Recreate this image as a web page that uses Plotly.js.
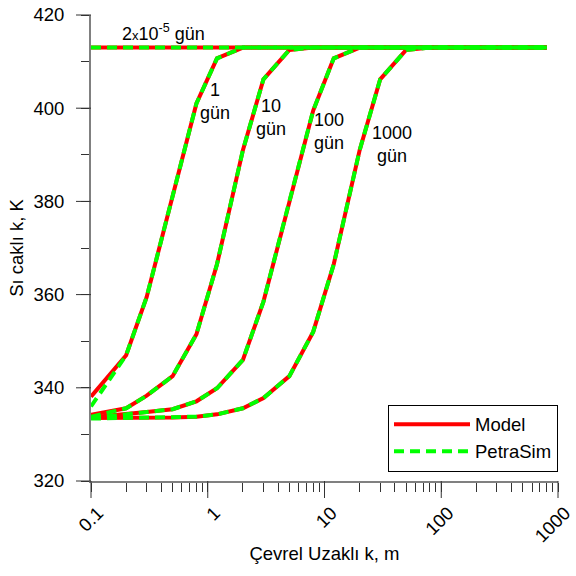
<!DOCTYPE html>
<html>
<head>
<meta charset="utf-8">
<script src="https://cdn.plot.ly/plotly-3.0.1.min.js"></script>
<style>html,body{margin:0;padding:0;background:#fff;}#chart{width:576px;height:576px;}</style>
</head>
<body>
<div id="chart"></div>
<script>
// distance grid (m)
const dist = [0.1, 0.2, 0.3, 0.5, 0.8, 1.2, 2, 3, 5, 8, 12, 20, 30, 50, 80, 120, 200, 300, 500, 800];

// Model temperatures (K)
const modelInit   = [413, 413, 413, 413, 413, 413, 413, 413, 413, 413, 413, 413, 413, 413, 413, 413, 413, 413, 413, 413];
const model1      = [338.1, 347.0, 359.5, 381.0, 401.0, 410.7, 413, 413, 413, 413, 413, 413, 413, 413, 413, 413, 413, 413, 413, 413];
const model10     = [334.2, 335.6, 338.3, 342.5, 351.5, 366.5, 391.0, 406.2, 412.5, 413, 413, 413, 413, 413, 413, 413, 413, 413, 413, 413];
const model100    = [333.7, 334.3, 334.8, 335.4, 337.1, 339.9, 346.0, 358.5, 380.0, 399.5, 410.7, 413, 413, 413, 413, 413, 413, 413, 413, 413];
const model1000   = [333.5, 333.5, 333.5, 333.6, 333.8, 334.3, 335.6, 337.8, 342.5, 352.0, 366.5, 391.0, 406.2, 412.5, 413, 413, 413, 413, 413, 413];

// PetraSim temperatures (K)
const petraInit   = [413, 413, 413, 413, 413, 413, 413, 413, 413, 413, 413, 413, 413, 413, 413, 413, 413, 413, 413, 413];
const petra1      = [336.0, 347.0, 359.5, 381.0, 401.0, 410.7, 413, 413, 413, 413, 413, 413, 413, 413, 413, 413, 413, 413, 413, 413];
const petra10     = [333.8, 335.6, 338.3, 342.5, 351.5, 366.5, 391.0, 406.2, 412.5, 413, 413, 413, 413, 413, 413, 413, 413, 413, 413, 413];
const petra100    = [333.5, 334.3, 334.8, 335.4, 337.1, 339.9, 346.0, 358.5, 380.0, 399.5, 410.7, 413, 413, 413, 413, 413, 413, 413, 413, 413];
const petra1000   = [333.4, 333.5, 333.5, 333.6, 333.8, 334.3, 335.6, 337.8, 342.5, 352.0, 366.5, 391.0, 406.2, 412.5, 413, 413, 413, 413, 413, 413];

const seriesNames = ['Model', 'PetraSim'];
const curveLabels = ['2<span style="font-size:13px">x</span>10<sup>-5</sup> gün', '1<br>gün', '10<br>gün', '100<br>gün', '1000<br>gün'];

// axis ticks
const xTickVals = [0.1, 1, 10, 100, 1000];
const xTickText = ['0.1', '1', '10', '100', '1000'];
const xMinorVals = [0.2,0.3,0.4,0.5,0.6,0.7,0.8,0.9, 2,3,4,5,6,7,8,9, 20,30,40,50,60,70,80,90, 200,300,400,500,600,700,800,900];
const yTickVals = [320, 340, 360, 380, 400, 420];
const yMinorVals = [330, 350, 370, 390, 410];

const FONT = 'Arial, "Liberation Sans", sans-serif';
const FS = 18.5;
const X_LOG_RANGE = [-1, 3];
const Y_RANGE = [320, 420];
const PLOT_W = 576 - 91 - 18, PLOT_H = 576 - 15 - 95;

const modelSets = [modelInit, model1, model10, model100, model1000];
const petraSets = [petraInit, petra1, petra10, petra100, petra1000];

const traces = [];
modelSets.forEach((ys, i) => {
  traces.push({x: dist, y: ys, type: 'scatter', mode: 'lines', name: seriesNames[0],
    legendgroup: 'm', showlegend: i === 0,
    line: {color: '#ff0000', width: 4}});
});
petraSets.forEach((ys, i) => {
  traces.push({x: dist, y: ys, type: 'scatter', mode: 'lines', name: seriesNames[1],
    legendgroup: 'p', showlegend: i === 0,
    line: {color: '#00ff00', width: 4, dash: '10px,6px'}});
});

const annPos = [[0.062, 0.9615, 'left', 'middle'], [0.2655, 0.864, 'center', 'top'], [0.3854, 0.830, 'center', 'top'], [0.5096, 0.800, 'center', 'top'], [0.6445, 0.772, 'center', 'top']];
const annotations = curveLabels.map((t, i) => ({
  text: t, xref: 'paper', yref: 'paper', x: annPos[i][0], y: annPos[i][1],
  xanchor: annPos[i][2], yanchor: annPos[i][3], showarrow: false, align: 'center',
  font: {family: FONT, size: 18, color: '#000'}
}));

// longer major ticks: extend the short ticks drawn by the axes
const TICK_COLOR = '#333';
const shapes = [];
xTickVals.forEach(v => {
  const px = (Math.log10(v) - X_LOG_RANGE[0]) / (X_LOG_RANGE[1] - X_LOG_RANGE[0]);
  shapes.push({type: 'line', xref: 'paper', yref: 'paper', x0: px, x1: px, y0: 0, y1: -17 / PLOT_H,
    line: {color: TICK_COLOR, width: 1}, layer: 'above'});
});
yTickVals.forEach(v => {
  const py = (v - Y_RANGE[0]) / (Y_RANGE[1] - Y_RANGE[0]);
  shapes.push({type: 'line', xref: 'paper', yref: 'paper', x0: 0, x1: -15 / PLOT_W, y0: py, y1: py,
    line: {color: TICK_COLOR, width: 1}, layer: 'above'});
});

const layout = {
  width: 576, height: 576,
  margin: {l: 91, r: 18, t: 15, b: 95},
  paper_bgcolor: '#fff', plot_bgcolor: 'rgba(0,0,0,0)',
  font: {family: FONT, size: FS, color: '#000'},
  showlegend: true,
  legend: {x: 1, xanchor: 'right', y: 0.02, yanchor: 'bottom',
    bordercolor: '#000', borderwidth: 1, bgcolor: '#fff',
    font: {family: FONT, size: FS, color: '#000'}, itemwidth: 76, tracegroupgap: 0},
  xaxis: {type: 'log', range: X_LOG_RANGE, tickmode: 'array',
    tickvals: xTickVals.concat(xMinorVals), ticktext: xTickText.concat(xMinorVals.map(() => '')),
    tickangle: -45, ticks: 'outside', ticklen: 9, tickcolor: TICK_COLOR, tickwidth: 1,
    showline: true, linecolor: '#808080', linewidth: 2, showgrid: false, zeroline: false,
    ticklabelstandoff: 3, ticklabelshift: 7, ticklabeloverflow: 'allow',
    tickfont: {family: FONT, size: FS},
    title: {text: 'Çevrel Uzaklı k, m', font: {family: FONT, size: FS}, standoff: 2}},
  yaxis: {range: Y_RANGE, tickmode: 'array',
    tickvals: yTickVals.concat(yMinorVals), ticktext: yTickVals.map(String).concat(yMinorVals.map(() => '')),
    ticks: 'outside', ticklen: 8, tickcolor: TICK_COLOR, tickwidth: 1,
    showline: true, linecolor: '#808080', linewidth: 2, showgrid: false, zeroline: false,
    ticklabelstandoff: 13,
    tickfont: {family: FONT, size: FS},
    title: {text: 'Sı caklı k, K', font: {family: FONT, size: FS}, standoff: 5}},
  shapes: shapes,
  annotations: annotations
};

Plotly.newPlot('chart', traces, layout, {displayModeBar: false, staticPlot: true});
</script>
</body>
</html>
